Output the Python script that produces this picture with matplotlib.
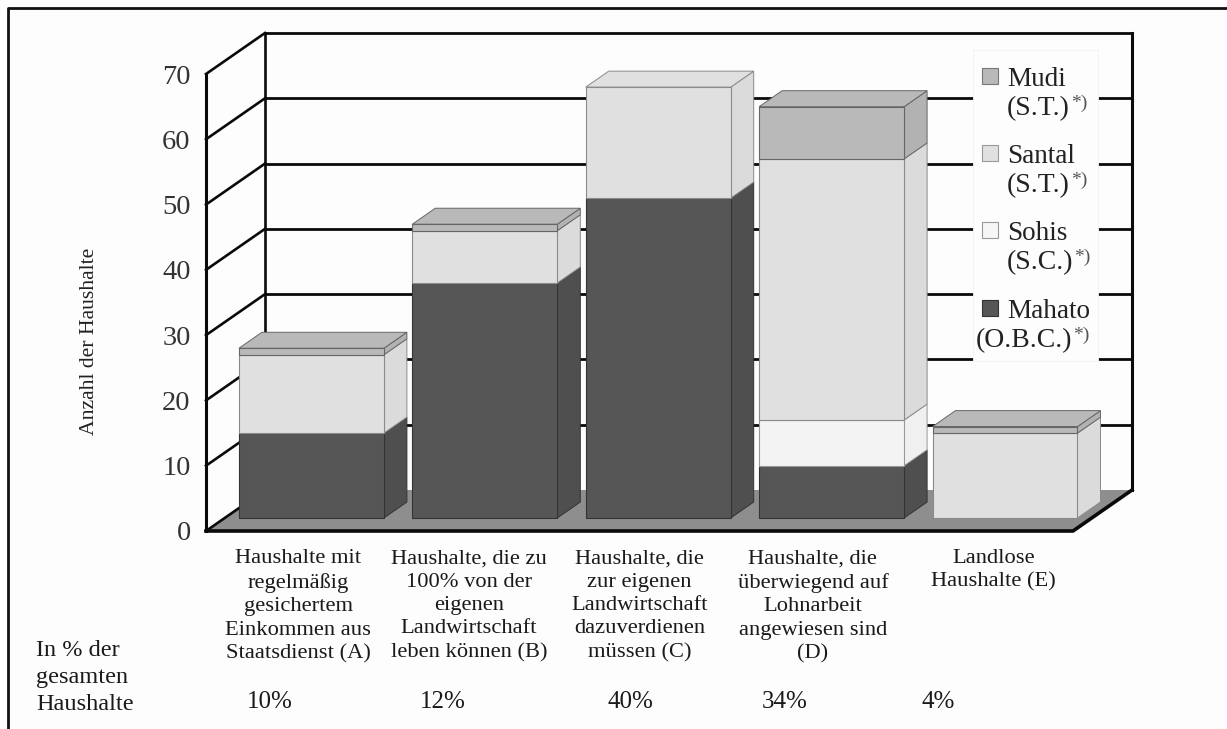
# Stacked 3D-look bar chart: Haushalte nach Kaste und Einkommensgruppe
import numpy as np
import matplotlib
matplotlib.use('Agg')
import matplotlib.pyplot as plt
from matplotlib.patches import Polygon, Rectangle
from matplotlib.transforms import ScaledTranslation

plt.rcParams['font.family'] = ['Liberation Serif', 'DejaVu Serif']

categories = ['Haushalte mit\nregelmäßig\ngesichertem\nEinkommen aus\nStaatsdienst (A)',
              'Haushalte, die zu\n100% von der\neigenen\nLandwirtschaft\nleben können (B)',
              'Haushalte, die\nzur eigenen\nLandwirtschaft\ndazuverdienen\nmüssen (C)',
              'Haushalte, die\nüberwiegend auf\nLohnarbeit\nangewiesen sind\n(D)',
              'Landlose\nHaushalte (E)']
percent = ['10%', '12%', '40%', '34%', '4%']
mahato = [13, 36, 49, 8, 0]
sohis = [0, 0, 0, 7, 0]
santal = [12, 8, 17, 40, 13]
mudi = [1, 1, 0, 8, 1]
yticks = [0, 10, 20, 30, 40, 50, 60, 70]

W, H = 1227, 729
BG = '#fdfdfd'
series = [(mahato, '#565656', '#4f4f4f', '#333333'),
          (sohis, '#f3f3f3', '#f0f0f0', '#999999'),
          (santal, '#e0e0e0', '#dbdbdb', '#8a8a8a'),
          (mudi, '#b9b9b9', '#b2b2b2', '#666666')]

# depth of the box, in data units of the front plane
DX = 59 / 173.4
DY = 41 / 6.53
BAR_W = 0.836
D_FRONT = 0.317
D_BACK = 0.707


def pr(x, v, d):
    return (x + d * DX, v + d * DY)


fig = plt.figure(figsize=(W / 100, H / 100), dpi=100, facecolor=BG)
ax = fig.add_axes([206 / W, 1 - 531 / H, 867 / W, 457 / H], facecolor='none')
ax.set_xlim(-0.5, 4.5)
ax.set_ylim(0, 70)
for s in ax.spines.values():
    s.set_visible(False)

# floor
ax.add_patch(Polygon([pr(-0.5, 0, 0), pr(4.5, 0, 0), pr(4.5, 0, 1), pr(-0.5, 0, 1)],
                     fc='#8e8e8e', ec='none', zorder=1, clip_on=False))

# walls and grid
for v in yticks[1:]:
    x0, y0 = pr(-0.5, v, 1)
    x1, y1 = pr(4.5, v, 1)
    ax.plot([x0, x1], [y0, y1], color='#0a0a0a', lw=2.0, zorder=2, clip_on=False)
for v in yticks:
    a = pr(-0.5, v, 0)
    b = pr(-0.5, v, 1)
    ax.plot([a[0], b[0]], [a[1], b[1]], color='#0a0a0a', lw=1.9, zorder=2, clip_on=False)
x0, y0 = pr(-0.5, 0, 1)
x1, y1 = pr(-0.5, 70, 1)
ax.plot([x0, x1], [y0, y1], color='#0a0a0a', lw=1.9, zorder=2, clip_on=False)
x0, y0 = pr(4.5, 0, 1)
x1, y1 = pr(4.5, 70, 1)
ax.plot([x0, x1], [y0, y1], color='#0a0a0a', lw=2.2, zorder=2, clip_on=False)
ax.plot([-0.5, -0.5], [0, 70], color='#0a0a0a', lw=2.2, zorder=2, clip_on=False)
# front floor edge is thicker
a = pr(4.5, 0, 0)
b = pr(4.5, 0, 1)
ax.plot([-0.5, a[0], b[0]], [0, a[1], b[1]], color='#0a0a0a', lw=2.6, zorder=2, clip_on=False)

# bars
for i in range(len(categories)):
    left = i - BAR_W / 2
    right = i + BAR_W / 2
    base = 0
    top_col = None
    for vals, col, side, edge in series:
        v = vals[i]
        if v == 0:
            continue
        bx = i + D_FRONT * DX
        by = base + D_FRONT * DY
        ax.bar(bx, v, BAR_W, bottom=by, color=col, edgecolor=edge, lw=0.8, zorder=4, clip_on=False)
        ax.add_patch(Polygon([pr(right, base, D_FRONT), pr(right, base + v, D_FRONT),
                              pr(right, base + v, D_BACK), pr(right, base, D_BACK)],
                             fc=side, ec=edge, lw=0.7, zorder=3, clip_on=False))
        base += v
        top_col = (col, edge)
    ax.add_patch(Polygon([pr(left, base, D_FRONT), pr(right, base, D_FRONT),
                          pr(right, base, D_BACK), pr(left, base, D_BACK)],
                         fc=top_col[0], ec=top_col[1], lw=0.7, zorder=3, clip_on=False))

ax.set_yticks(yticks)
ax.tick_params(axis='y', length=0, pad=11, labelsize=20.5, labelcolor='#333333')
ax.set_xticks(range(5))
ax.set_xticklabels(categories, fontsize=16.2, color='#1a1a1a', linespacing=1.32)
ax.tick_params(axis='x', length=0, pad=13)
# small nudges of the category labels, in points
for lab, dx in zip(ax.get_xticklabels(), [4, 2, 0, 0, 5]):
    lab.set_transform(lab.get_transform() + ScaledTranslation(dx / 72, 0, fig.dpi_scale_trans))

# overlay in pixels for frame, legend and loose text
ov = fig.add_axes([0, 0, 1, 1], facecolor='none')
ov.set_xlim(0, W)
ov.set_ylim(H, 0)
ov.axis('off')
ov.plot([8, 8, W], [H, 8, 8], color='#111111', lw=2.0)

ov.text(90, 341, 'Anzahl der Haushalte', rotation=90, ha='center', va='center',
        fontsize=15.6, color='#222222')

# legend
ov.add_patch(Rectangle((973, 50), 125, 311, fc='#fdfdfd', ec='#f2f2f2', lw=0.6, zorder=5))
legend_rows = [('Mudi', '(S.T.)', '#b9b9b9', '#777777', 79, 1007, 1007),
               ('Santal', '(S.T.)', '#e0e0e0', '#999999', 156, 1007, 1007),
               ('Sohis', '(S.C.)', '#f6f6f6', '#999999', 233, 1007, 1007),
               ('Mahato', '(O.B.C.)', '#565656', '#333333', 311, 1007, 976)]
for name, group, col, edge, y, x1, x2 in legend_rows:
    ov.add_patch(Rectangle((982, y - 11), 16, 16, fc=col, ec=edge, lw=0.8, zorder=6))
    ov.text(x1, y, name, fontsize=19.5, color='#222222', ha='left', va='center', zorder=6)
    t = ov.text(x2, y + 30, group, fontsize=20, color='#222222', ha='left', va='center', zorder=6)
    fig.canvas.draw()
    bb = t.get_window_extent()
    ov.text(bb.x1 + 1, y + 24, '*)', fontsize=14, color='#555555', ha='left', va='center', zorder=6)

# percent row
ov.text(36, 651, 'In % der', fontsize=17.5, color='#1a1a1a', va='center')
ov.text(36, 677, 'gesamten', fontsize=17.5, color='#1a1a1a', va='center')
ov.text(36, 704, 'Haushalte', fontsize=17.5, color='#1a1a1a', va='center')
for p, x in zip(percent, [270, 443, 630, 785, 938]):
    ov.text(x, 702, p, fontsize=18, color='#1a1a1a', ha='center', va='center')

fig.savefig('out.png', dpi=100, facecolor=BG)
